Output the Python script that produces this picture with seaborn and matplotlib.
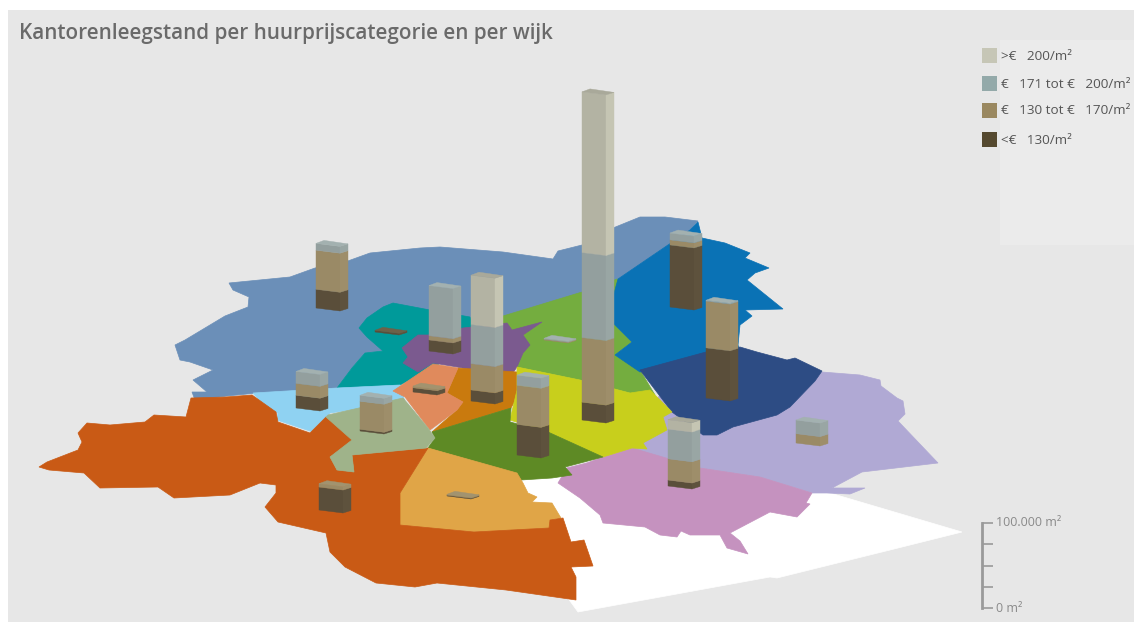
import matplotlib
matplotlib.use("Agg")
import matplotlib.pyplot as plt
from matplotlib.patches import Polygon, Rectangle
import pandas as pd
import seaborn as sns

# Title and price classes
title = "Kantorenleegstand per huurprijscategorie en per wijk"
price_labels = [">€   200/m²", "€   171 tot €   200/m²", "€   130 tot €   170/m²", "<€   130/m²"]
price_colors = ["#c6c6b6", "#93a9a9", "#9a8860", "#55492f"]

# Vacant office floor space per district, thousand m², one list per price class
below_130 = [21, 22, 13, 13, 36, 15, 2, 2, 5, 0, 73, 59, 7, 0, 27, 1]
from_130 = [76, 46, 5, 31, 46, 14, 33, 0, 2, 1, 6, 55, 25, 11, 4, 1]
from_171 = [100, 8, 59, 46, 12, 14, 7, 0, 0, 1, 8, 1, 35, 16, 0, 0]
above_200 = [189, 0, 0, 58, 0, 0, 0, 0, 0, 0, 0, 0, 11, 0, 0, 0]

# Where each column stands on the map (left edge, front corner)
column_x = [582, 316, 429, 471, 517, 296, 360, 375, 413, 544, 670, 706, 668, 796, 319, 447]
column_y = [423, 311, 354, 404, 458, 411, 434, 335, 395, 343, 310, 401, 489, 446, 513, 499]

# District outlines on the tilted map
wijk_wit = [(520, 480), (552, 478), (600, 470), (820, 490), (962, 532), (890, 550), (777, 578),
            (770, 577), (578, 612), (540, 560)]
wijk_staalblauw = [(175, 345), (185, 340), (200, 331), (225, 316), (248, 307), (249, 297), (233, 290),
                   (229, 283), (290, 277), (315, 268), (345, 262), (370, 253), (420, 248), (440, 247),
                   (503, 252), (553, 259), (558, 251), (582, 245), (613, 228), (640, 217), (665, 217),
                   (698, 221), (690, 230), (618, 279), (582, 300), (503, 330), (470, 330), (383, 351),
                   (365, 353), (352, 368), (337, 388), (257, 393), (227, 396), (195, 400), (192, 392),
                   (207, 392), (193, 380), (213, 370), (190, 362), (180, 360)]
wijk_blauw = [(690, 230), (698, 222), (702, 238), (725, 243), (750, 253), (745, 258), (769, 268),
              (755, 273), (747, 280), (783, 309), (745, 310), (752, 316), (740, 325), (738, 345),
              (740, 352), (640, 372), (615, 355), (632, 342), (613, 323), (613, 297), (618, 279)]
wijk_lila = [(822, 372), (860, 375), (880, 380), (881, 386), (897, 398), (903, 401), (905, 414),
             (898, 421), (938, 463), (862, 472), (832, 488), (865, 488), (850, 494), (827, 493),
             (812, 493), (760, 477), (700, 468), (630, 448), (640, 420), (660, 395), (700, 390)]
wijk_marine = [(640, 370), (706, 352), (740, 347), (757, 352), (787, 360), (795, 358), (822, 371),
               (815, 381), (790, 407), (777, 415), (733, 427), (717, 435), (703, 435), (687, 423),
               (672, 412)]
wijk_roze = [(558, 483), (567, 468), (587, 463), (603, 457), (632, 448), (700, 468), (760, 477),
             (812, 493), (806, 503), (810, 504), (797, 517), (770, 512), (730, 533), (740, 541),
             (748, 554), (727, 548), (720, 535), (690, 535), (681, 531), (677, 537), (660, 535),
             (645, 527), (603, 523), (600, 515), (580, 498)]
wijk_groen = [(503, 316), (582, 292), (617, 279), (646, 289), (613, 297), (613, 323), (632, 342),
              (615, 355), (640, 370), (655, 395), (630, 393), (580, 380), (517, 367), (500, 365)]
wijk_teal = [(359, 328), (367, 318), (383, 307), (393, 303), (430, 310), (470, 317), (480, 340),
             (420, 375), (400, 385), (337, 388), (352, 368), (365, 353), (383, 351), (367, 337)]
wijk_paars = [(402, 348), (418, 335), (428, 335), (463, 328), (507, 323), (512, 330), (542, 322),
              (523, 335), (530, 345), (523, 353), (517, 367), (510, 377), (457, 367), (433, 363),
              (418, 372), (403, 363), (408, 357)]
wijk_lichtblauw = [(253, 393), (337, 388), (400, 385), (405, 402), (385, 405), (330, 413), (313, 432),
                   (277, 420), (278, 413), (268, 410)]
wijk_salie = [(328, 415), (403, 398), (428, 428), (435, 438), (426, 448), (352, 455),
              (354, 472), (337, 470), (330, 457), (352, 440), (326, 417)]
wijk_donkeroranje = [(458, 368), (517, 372), (518, 395), (511, 408), (432, 432), (457, 410), (463, 402),
                     (447, 393)]
wijk_zalm = [(393, 391), (433, 364), (458, 368), (447, 393), (463, 402), (457, 410), (430, 430),
             (405, 397)]
wijk_geel = [(517, 367), (580, 380), (630, 393), (650, 390), (672, 412), (663, 417), (667, 430),
             (643, 443), (647, 449), (632, 448), (603, 457), (548, 432), (510, 420), (517, 390)]
wijk_donkergroen = [(432, 432), (511, 408), (510, 422), (548, 432), (603, 457), (565, 467), (572, 475),
                    (552, 478), (521, 480), (515, 473), (428, 448), (435, 438)]
wijk_okergeel = [(428, 448), (517, 473), (523, 483), (528, 493), (537, 497), (532, 502), (552, 503),
                 (561, 518), (550, 520), (549, 528), (474, 532), (400, 525), (400, 493)]
wijk_oranje = [(39, 467), (47, 462), (78, 450), (82, 442), (78, 433), (87, 423), (110, 425), (145, 422),
               (154, 415), (186, 417), (191, 398), (226, 397), (252, 395), (276, 412), (278, 422),
               (310, 433), (326, 417), (354, 440), (330, 457), (337, 470), (354, 472), (352, 455),
               (428, 448), (400, 493), (400, 525), (474, 532), (549, 528), (550, 520), (563, 518),
               (571, 542), (584, 540), (593, 566), (571, 567), (576, 577), (576, 600), (506, 590),
               (437, 583), (415, 587), (376, 583), (345, 567), (330, 552), (326, 533), (278, 522),
               (265, 507), (276, 493), (276, 485), (260, 483), (230, 495), (174, 498), (158, 487),
               (100, 488), (84, 473), (49, 470)]

# Colour of each district, listed in drawing order
districts = [
    (wijk_wit, "#ffffff"), (wijk_staalblauw, "#6b8fb8"), (wijk_groen, "#74ad3f"), (wijk_blauw, "#0a72b5"),
    (wijk_lila, "#b0a9d4"), (wijk_marine, "#2d4c84"), (wijk_roze, "#c592bf"), (wijk_teal, "#009a9a"),
    (wijk_paars, "#7b5a8f"), (wijk_lichtblauw, "#8fd2f2"), (wijk_donkeroranje, "#c97a0e"),
    (wijk_zalm, "#e08a5c"), (wijk_geel, "#c8cf1c"), (wijk_donkergroen, "#5e8a25"),
    (wijk_okergeel, "#e0a547"), (wijk_oranje, "#c95a15"), (wijk_salie, "#9fb38a"),
]

# Front, side and roof tints per price class, lowest class first
face_front = ["#5a4e3a", "#9a8a66", "#939f9e", "#b3b3a3"]
face_side = ["#5e523d", "#9e8e6a", "#99a6a4", "#c5c5b3"]
face_roof = ["#6d6148", "#a2936f", "#a3b1b0", "#a9a99a"]

PX_PER_THOUSAND = 0.85
FRONT_W, SIDE_W, SKEW_L, SKEW_R, ROOF_H = 24, 8, 3, 2.5, 6

sns.set_theme(style="white")
plt.rcParams["font.family"] = ["Open Sans", "DejaVu Sans"]

fig = plt.figure(figsize=(11.34, 6.40), dpi=100, facecolor="white")
ax = fig.add_axes([0, 0, 1, 1])
ax.set_xlim(0, 1134)
ax.set_ylim(640, 0)
ax.axis("off")

ax.add_patch(Rectangle((8, 10), 1126, 612, facecolor="#e7e7e7", edgecolor="none", zorder=0))
ax.add_patch(Rectangle((1000, 40), 134, 205, facecolor="#ebebeb", edgecolor="none", zorder=0.5))

for outline, colour in districts:
    ax.add_patch(Polygon(outline, closed=True, facecolor=colour, edgecolor=colour, linewidth=0.5, zorder=1))


def draw_column(x, y, stack):
    """Stack the price classes upward from the front corner, with side faces and a roof."""
    level = y
    top_class = 0
    for k, value in enumerate(stack):
        if value <= 0:
            continue
        h = value * PX_PER_THOUSAND
        xf, xr = x + FRONT_W, x + FRONT_W + SIDE_W
        ax.add_patch(Polygon([(x, level - SKEW_L), (xf, level), (xf, level - h), (x, level - h - SKEW_L)],
                             facecolor=face_front[k], edgecolor=face_front[k], linewidth=0.3, zorder=3))
        ax.add_patch(Polygon([(xf, level), (xr, level - SKEW_R), (xr, level - h - SKEW_R), (xf, level - h)],
                             facecolor=face_side[k], edgecolor=face_side[k], linewidth=0.3, zorder=3))
        level -= h
        top_class = k
    ax.add_patch(Polygon([(x, level - SKEW_L), (x + FRONT_W, level), (x + FRONT_W + SIDE_W, level - SKEW_R),
                          (x + SIDE_W, level - ROOF_H)],
                         facecolor=face_roof[top_class], edgecolor=face_roof[top_class], linewidth=0.3, zorder=3))


for i in range(len(column_x)):
    draw_column(column_x[i], column_y[i], [below_130[i], from_130[i], from_171[i], above_200[i]])

ax.text(19, 33, title, fontsize=14.85, fontweight="semibold", color="#6a6a6a", va="center", ha="left")

# Legend swatches and labels
legend_frame = pd.DataFrame({
    "x": [989.5] * 4,
    "y": [55.5, 83.5, 110.5, 139.5],
    "label": price_labels,
})
sns.scatterplot(data=legend_frame, x="x", y="y", hue="label", palette=price_colors, marker="s", s=117,
                linewidth=0, legend=False, ax=ax, zorder=4)
for _, row in legend_frame.iterrows():
    ax.text(1001, row["y"] + 0.5, row["label"], fontsize=9.7, color="#555555", va="center", ha="left", clip_on=True)
ax.set_xlabel("")
ax.set_ylabel("")

# Height key
key = fig.add_axes([982 / 1134, 1 - 608 / 640, 12 / 1134, 85 / 640], facecolor="none")
key.set_ylim(0, 100000)
key.set_xlim(0, 1)
key.set_yticks([0, 25000, 50000, 75000, 100000])
key.set_yticklabels([])
key.set_xticks([])
key.tick_params(axis="y", direction="in", length=8, width=1.2, color="#9a9a9a", left=True)
sns.despine(ax=key, top=True, right=True, bottom=True)
key.spines["left"].set_color("#9a9a9a")
key.spines["left"].set_linewidth(2)
ax.text(996, 523, "100.000 m²", fontsize=9, color="#8a8a8a", va="center", ha="left")
ax.text(996, 608, "0 m²", fontsize=9, color="#8a8a8a", va="center", ha="left")

fig.savefig("out.png", dpi=100, facecolor="white")
